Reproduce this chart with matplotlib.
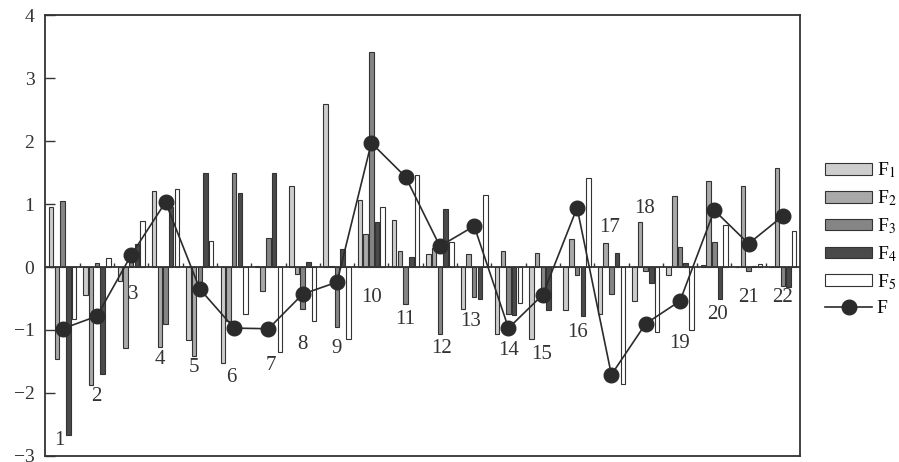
import numpy as np
import matplotlib
matplotlib.use("Agg")
import matplotlib.pyplot as plt

plt.rcParams['font.family'] = ['Liberation Serif', 'DejaVu Serif']
plt.rcParams['mathtext.fontset'] = 'stix'

# Data
groups = np.arange(1, 23)
f1 = [0.95, -0.45, -0.23, 1.21, -1.16, -1.52, 0.02, 1.29, 2.59, 1.07, 0.75,
      0.21, -0.66, -1.07, -1.15, -0.69, -0.75, -0.54, -0.12, 0.03, 0.0, 0.0]
f2 = [-1.46, -1.88, -1.28, -1.27, -1.41, -0.85, -0.38, -0.11, 0.02, 0.53, 0.25,
      0.30, 0.21, 0.26, 0.23, 0.44, 0.38, 0.72, 1.13, 1.36, 1.28, 1.57]
f3 = [1.04, 0.06, 0.20, -0.91, -0.25, 1.49, 0.46, -0.67, -0.95, 3.42, -0.59,
      -1.06, -0.47, -0.75, -0.40, -0.12, -0.43, -0.07, 0.32, 0.40, -0.06, -0.30]
f4 = [-2.67, -1.70, 0.36, 0.95, 1.49, 1.18, 1.50, 0.08, 0.29, 0.72, 0.16,
      0.92, -0.50, -0.76, -0.69, -0.77, 0.23, -0.26, 0.06, -0.50, 0.02, -0.32]
f5 = [-0.82, 0.14, 0.73, 1.24, 0.42, -0.75, -1.35, -0.86, -1.14, 0.96, 1.46,
      0.39, 1.14, -0.57, 0.0, 1.41, -1.85, -1.03, -1.00, 0.66, 0.04, 0.57]
F = [-0.98, -0.78, 0.19, 1.03, -0.35, -0.97, -0.98, -0.43, -0.24, 1.97, 1.43,
     0.33, 0.65, -0.97, -0.44, 0.94, -1.71, -0.90, -0.54, 0.90, 0.37, 0.81]
series_names = [r'F$_{\rm 1}$', r'F$_{\rm 2}$', r'F$_{\rm 3}$', r'F$_{\rm 4}$', r'F$_{\rm 5}$']

# Group number label positions
label_y = [-2.75, -2.05, -0.43, -1.47, -1.59, -1.75, -1.56, -1.23, -1.30, -0.48, -0.83,
           -1.29, -0.86, -1.33, -1.39, -1.04, 0.62, 0.93, -1.22, -0.76, -0.49, -0.49]
label_dx = [-0.1, -0.03, 0.07, -0.17, -0.17, -0.07, 0.06, 0.0, 0.0, 0.02, 0.0,
            0.06, -0.1, 0.0, -0.02, 0.0, -0.04, -0.02, 0.0, 0.08, 0.0, 0.0]

colors = ['#cdcdcd', '#a9a9a9', '#858585', '#4a4a4a', 'white']
edge = '#333333'

fig = plt.figure(figsize=(8.99, 4.62), dpi=100)
ax = fig.add_axes([0.0506, 0.013, 0.8393, 0.9545])

width = 0.13
step = 0.166
handles = []
for j, vals in enumerate([f1, f2, f3, f4, f5]):
    b = ax.bar(groups + (j - 2) * step, vals, width, color=colors[j],
               edgecolor=edge, linewidth=0.8, label=series_names[j], zorder=2)
    handles.append(b)

ax.axhline(0, color=edge, lw=1.3, zorder=3)
ax.vlines(groups[:-1] + 0.5, 0, 0.06, color=edge, lw=1.0, zorder=3)

line, = ax.plot(groups, F, '-o', color='#2b2b2b', lw=1.2, markersize=10.5,
                label='F', zorder=4)
handles.append(line)

for i, g in enumerate(groups):
    ax.text(g + label_dx[i], label_y[i], str(g), ha='center', va='center',
            fontsize=15, color='#333333', zorder=5)

ax.set_xlim(0.5, 22.5)
ax.set_ylim(-3, 4)
ax.set_yticks(range(-3, 5))
ax.set_xticks([])
ax.tick_params(axis='y', direction='in', length=7, width=1.0, labelsize=14,
               colors='#333333', pad=8)
for s in ax.spines.values():
    s.set_linewidth(1.3)
    s.set_color(edge)

fig.legend(handles=handles, labels=series_names + ['F'], loc='center left',
           bbox_to_anchor=(0.918, 0.483), frameon=False, fontsize=14,
           handlelength=2.4, handleheight=0.55, labelspacing=0.42,
           handletextpad=0.25, borderpad=0, borderaxespad=0)

fig.savefig("out.png", dpi=100)
